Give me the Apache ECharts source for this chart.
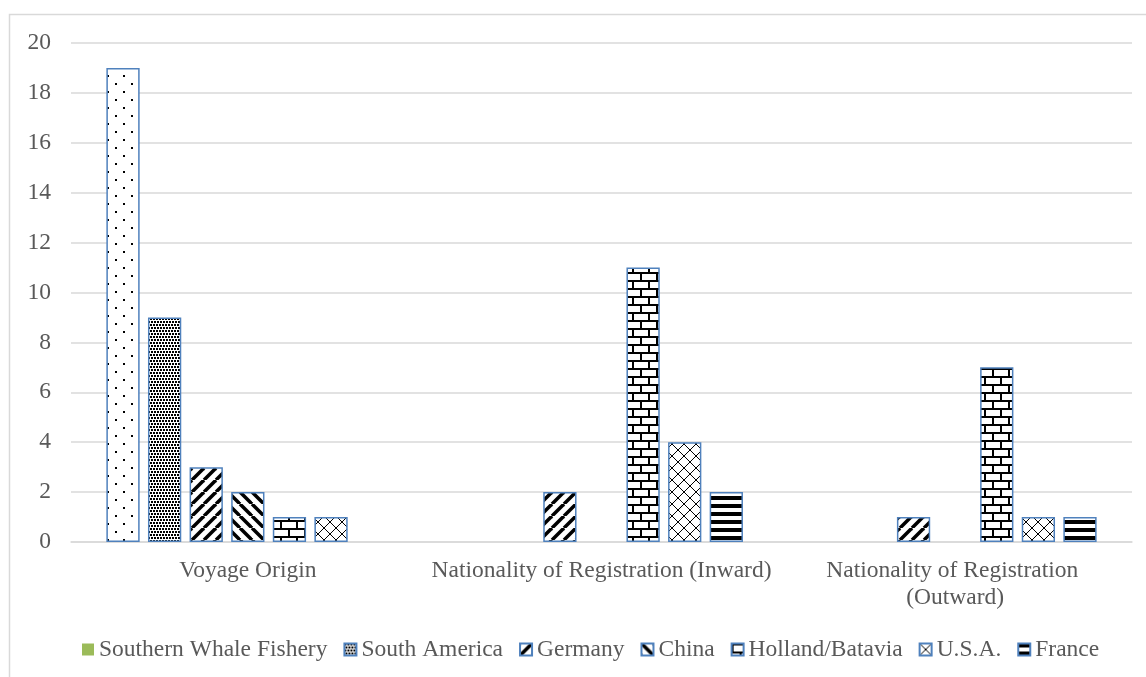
<!DOCTYPE html>
<html>
<head>
<meta charset="utf-8">
<title>Voyage origin and nationality of registration</title>
<script src="https://cdn.jsdelivr.net/npm/echarts@6/dist/echarts.min.js"></script>
<style>
  html, body { margin: 0; padding: 0; background: #ffffff; }
  #chart { width: 1146px; height: 677px; }
</style>
</head>
<body>
<div id="chart"></div>
<script>
// Categories along the x axis
const categories = [
  'Voyage Origin',
  'Nationality of Registration (Inward)',
  'Nationality of Registration (Outward)'
];

// Series names, in legend order
const seriesNames = [
  'Southern Whale Fishery',
  'South America',
  'Germany',
  'China',
  'Holland/Batavia',
  'U.S.A.',
  'France'
];

// Counts per category for each series
const southernWhaleFishery = [19, 0, 0];
const southAmerica         = [9, 0, 0];
const germany              = [3, 2, 1];
const china                = [2, 0, 0];
const hollandBatavia       = [1, 11, 7];
const usa                  = [1, 4, 1];
const france               = [0, 2, 1];

// Value axis range
const yMin = 0;
const yMax = 20;
const yStep = 2;

const seriesValues = [southernWhaleFishery, southAmerica, germany, china, hollandBatavia, usa, france];

const FONT = '"Times New Roman", "Liberation Serif", serif';
const TEXT = '#595959';
const GRID_LINE = '#d9d9d9';
const BAR_EDGE = '#4f81bd';

// Build a repeating black-on-white fill tile
function tile(w, h, draw) {
  const c = document.createElement('canvas');
  c.width = w; c.height = h;
  const g = c.getContext('2d');
  g.fillStyle = '#ffffff';
  g.fillRect(0, 0, w, h);
  g.fillStyle = '#000000';
  g.strokeStyle = '#000000';
  draw(g, w, h);
  return { image: c, repeat: 'repeat' };
}

const patterns = [
  // sparse dots
  tile(16, 16, g => { g.fillRect(3, 3, 2, 2); g.fillRect(11, 11, 2, 2); }),
  // dense dots
  tile(6, 6, g => {
    g.fillRect(0, 0, 2, 2); g.fillRect(3, 0, 2, 2);
    g.fillRect(1, 3, 2, 2); g.fillRect(4, 3, 2, 2);
  }),
  // wide upward diagonal
  tile(12, 12, (g, w, h) => {
    g.lineWidth = 3.5;
    for (let k = -1; k <= 1; k++) {
      g.beginPath(); g.moveTo(k * w, h); g.lineTo(k * w + w, 0); g.stroke();
    }
  }),
  // wide downward diagonal
  tile(12, 12, (g, w, h) => {
    g.lineWidth = 3.5;
    for (let k = -1; k <= 1; k++) {
      g.beginPath(); g.moveTo(k * w, 0); g.lineTo(k * w + w, h); g.stroke();
    }
  }),
  // horizontal brick
  tile(16, 16, g => {
    g.fillRect(0, 0, 16, 2);
    g.fillRect(0, 8, 16, 2);
    g.fillRect(0, 0, 2, 8);
    g.fillRect(8, 8, 2, 8);
  }),
  // diagonal lattice
  tile(12, 12, (g, w, h) => {
    g.lineWidth = 1;
    for (let k = -1; k <= 1; k++) {
      g.beginPath(); g.moveTo(k * w, h); g.lineTo(k * w + w, 0); g.stroke();
      g.beginPath(); g.moveTo(k * w, 0); g.lineTo(k * w + w, h); g.stroke();
    }
  }),
  // dark horizontal stripes
  tile(8, 8, g => { g.fillRect(0, 0, 8, 4); })
];

const series = seriesNames.map((name, i) => ({
  name: name,
  type: 'bar',
  barGap: '25%',
  barCategoryGap: '20%',
  itemStyle: { color: patterns[i], borderColor: BAR_EDGE, borderWidth: 1.5 },
  data: seriesValues[i].map(v => v === 0
    ? { value: v, itemStyle: { borderWidth: 0, opacity: 0 } }
    : v)
}));

const legendData = seriesNames.map((name, i) => i === 0
  ? { name: name, itemStyle: { color: '#9bbb59', borderWidth: 0 } }
  : { name: name });

const chart = echarts.init(document.getElementById('chart'), null, { renderer: 'canvas' });
chart.setOption({
  backgroundColor: '#ffffff',
  animation: false,
  graphic: [{
    type: 'rect',
    shape: { x: 9.5, y: 14.5, width: 1200, height: 700 },
    style: { fill: 'none', stroke: GRID_LINE, lineWidth: 1.5 },
    silent: true
  }],
  grid: { left: 71, right: 14, top: 43, bottom: 135, containLabel: false },
  legend: {
    data: legendData,
    left: 77,
    top: 631,
    icon: 'rect',
    itemWidth: 12,
    itemHeight: 12,
    itemGap: 16,
    textStyle: { fontFamily: FONT, fontSize: 23.5, color: TEXT, lineHeight: 27 }
  },
  xAxis: {
    type: 'category',
    data: categories,
    axisLine: { lineStyle: { color: GRID_LINE, width: 1.5 } },
    axisTick: { show: false },
    axisLabel: {
      interval: 0,
      margin: 15,
      fontFamily: FONT,
      fontSize: 23.5,
      color: TEXT,
      lineHeight: 27,
      width: 352,
      overflow: 'break'
    }
  },
  yAxis: {
    type: 'value',
    min: yMin,
    max: yMax,
    interval: yStep,
    axisLine: { show: false },
    axisTick: { show: false },
    splitLine: { lineStyle: { color: GRID_LINE, width: 1.5 } },
    axisLabel: { margin: 20, fontFamily: FONT, fontSize: 23.5, color: TEXT }
  },
  series: series
});
</script>
</body>
</html>
